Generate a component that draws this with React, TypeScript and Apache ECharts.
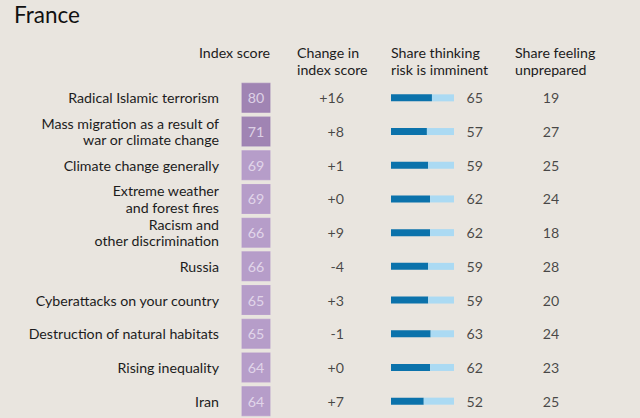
import React, { useEffect, useRef } from "react";
import * as echarts from "echarts";

const categories = [
  "Radical Islamic terrorism",
  "Mass migration as a result of\nwar or climate change",
  "Climate change generally",
  "Extreme weather\nand forest fires",
  "Racism and\nother discrimination",
  "Russia",
  "Cyberattacks on your country",
  "Destruction of natural habitats",
  "Rising inequality",
  "Iran",
];
const indexScores = [80, 71, 69, 69, 66, 66, 65, 65, 64, 64];
const indexChanges = [16, 8, 1, 0, 9, -4, 3, -1, 0, 7];
const shareImminent = [65, 57, 59, 62, 62, 59, 59, 63, 62, 52];
const shareUnprepared = [19, 27, 25, 24, 18, 28, 20, 24, 23, 25];
const headers = [
  { text: "Index score", x: 270, align: "right" },
  { text: "Change in\nindex score", x: 297, align: "left" },
  { text: "Share thinking\nrisk is imminent", x: 391, align: "left" },
  { text: "Share feeling\nunprepared", x: 515, align: "left" },
];

const FONT = "Lato, 'Noto Sans', sans-serif";
const BG = "#E9E5DF";
const TEXT = "#1c1c1c";
const FS = 14.2;
const TOP = 81;
const HEIGHT = 340;
const COL_INDEX = 256;
const COL_CHANGE = 344;
const COL_IMMINENT = 483;
const COL_UNPREP = 551;

export default function App() {
  const ref = useRef<HTMLDivElement>(null);
  useEffect(() => {
    if (!ref.current) return;
    const chart = echarts.init(ref.current, undefined, { renderer: "svg" });
    const yBase = {
      type: "category" as const,
      data: categories,
      inverse: true,
      axisLine: { show: false },
      axisTick: { show: false },
      splitLine: { show: false },
    };
    const textLabel = (pos: string, fmt: (i: number) => string) => ({
      show: true,
      position: pos,
      distance: 0,
      fontFamily: FONT,
      fontSize: FS,
      color: TEXT,
      formatter: (p: any) => fmt(p.dataIndex),
    });
    chart.setOption({
      animation: false,
      backgroundColor: BG,
      textStyle: { fontFamily: FONT },
      grid: [
        { left: 220, width: 420, top: TOP, height: HEIGHT },
        { left: 391, width: 63, top: TOP, height: HEIGHT },
      ],
      xAxis: [
        { gridIndex: 0, type: "value", min: 220, max: 640, show: false },
        { gridIndex: 1, type: "value", min: 0, max: 100, show: false },
      ],
      yAxis: [
        {
          ...yBase,
          gridIndex: 0,
          axisLabel: {
            margin: 1,
            fontFamily: FONT,
            fontSize: FS,
            lineHeight: 16.5,
            color: TEXT,
            align: "right",
          },
        },
        { ...yBase, gridIndex: 1, axisLabel: { show: false } },
      ],
      graphic: [
        {
          type: "text",
          left: 14,
          top: 3,
          style: { text: "France", fontFamily: FONT, fontSize: 22.5, fill: "#111" },
        },
        ...headers.map((h) => ({
          type: "text",
          x: h.x,
          y: 43.5,
          style: {
            text: h.text,
            fontFamily: FONT,
            fontSize: FS,
            lineHeight: 17,
            fill: TEXT,
            align: h.align,
            verticalAlign: "top",
          },
        })),
      ],
      series: [
        {
          type: "scatter",
          xAxisIndex: 0,
          yAxisIndex: 0,
          symbol: "rect",
          symbolSize: [28, 29],
          data: indexScores.map((v, i) => ({
            value: [COL_INDEX, categories[i]],
            itemStyle: {
              color: v >= 70 ? "#8D6CA7" : "#A98BC3",
              borderColor: v >= 70 ? "#9C7FB3" : "#B59ACB",
              borderWidth: 1,
            },
          })),
          label: {
            show: true,
            position: "inside",
            fontFamily: FONT,
            fontSize: FS,
            color: "#EDE4F3",
            formatter: (p: any) => String(indexScores[p.dataIndex]),
          },
        },
        {
          type: "scatter",
          xAxisIndex: 0,
          yAxisIndex: 0,
          symbolSize: 0,
          data: indexChanges.map((_, i) => [COL_CHANGE, categories[i]]),
          label: textLabel("left", (i) =>
            indexChanges[i] < 0 ? `-${Math.abs(indexChanges[i])}` : `+${indexChanges[i]}`
          ),
        },
        {
          type: "scatter",
          xAxisIndex: 0,
          yAxisIndex: 0,
          symbolSize: 0,
          data: shareImminent.map((_, i) => [COL_IMMINENT, categories[i]]),
          label: textLabel("left", (i) => String(shareImminent[i])),
        },
        {
          type: "scatter",
          xAxisIndex: 0,
          yAxisIndex: 0,
          symbolSize: 0,
          data: shareUnprepared.map((_, i) => [COL_UNPREP, categories[i]]),
          label: textLabel("inside", (i) => String(shareUnprepared[i])),
        },
        {
          type: "bar",
          xAxisIndex: 1,
          yAxisIndex: 1,
          stack: "imm",
          barWidth: 7,
          itemStyle: { color: "#0B72AB" },
          data: shareImminent,
        },
        {
          type: "bar",
          xAxisIndex: 1,
          yAxisIndex: 1,
          stack: "imm",
          barWidth: 7,
          itemStyle: { color: "#ABDAF3" },
          data: shareImminent.map((v) => 100 - v),
        },
      ],
    });
    return () => chart.dispose();
  }, []);
  return (
    <div
      ref={ref}
      style={{ position: "fixed", left: 0, top: 0, width: 640, height: 418 }}
    />
  );
}
